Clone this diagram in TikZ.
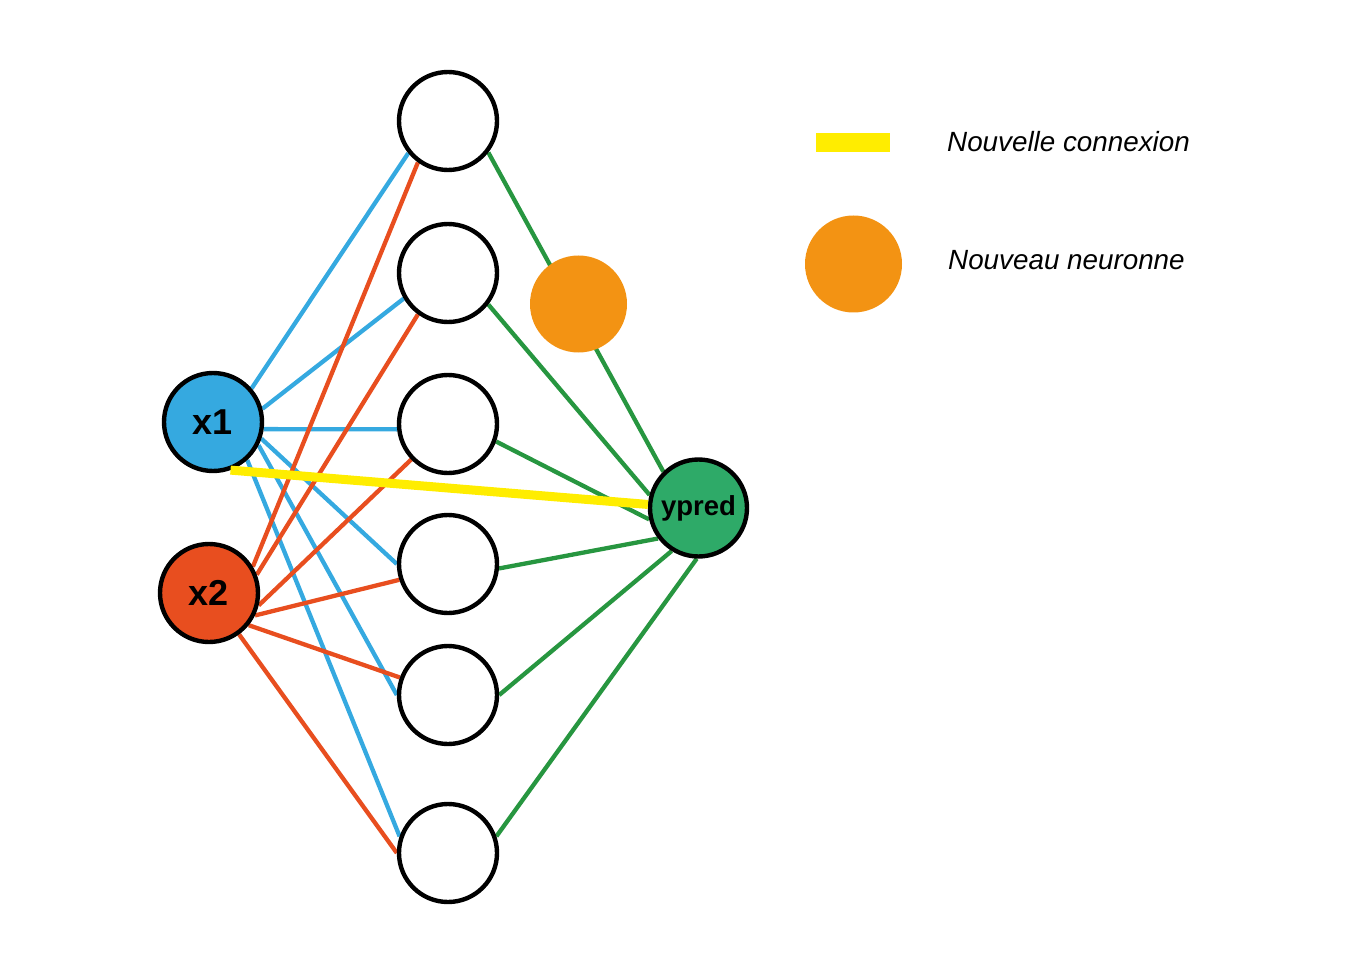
\documentclass[tikz,border=0pt]{standalone}
\usepackage{fontspec}
\setmainfont{Liberation Sans}
\usetikzlibrary{backgrounds}
\definecolor{inblue}{HTML}{35A9E0}
\definecolor{inred}{HTML}{E84E1F}
\definecolor{outgreen}{HTML}{2EAA68}
\definecolor{linkgreen}{HTML}{279640}
\definecolor{neworange}{HTML}{F39313}
\definecolor{newyellow}{HTML}{FFED00}
\begin{document}
\begin{tikzpicture}[x=1pt,y=-1pt,
  neuron/.style={circle, draw=black, line width=4.4pt, minimum size=98pt, inner sep=0pt, fill=white},
  inlabel/.style={font=\fontsize{36}{40}\selectfont\bfseries},
  addneuron/.style={circle, fill=neworange, minimum size=97pt, inner sep=0pt},
  bluelink/.style={draw=inblue, line width=4.3pt},
  redlink/.style={draw=inred, line width=4.3pt},
  greenlink/.style={draw=linkgreen, line width=4.3pt},
  newlink/.style={draw=newyellow, line width=9pt},
  keytext/.style={anchor=base west, inner sep=0pt, font=\fontsize{27.8}{32}\selectfont\itshape}]
\useasboundingbox (0,0) rectangle (1360,976);

% inputs
\node[neuron, fill=inblue, inlabel] (x1) at (213,422) {x1};
\node[neuron, fill=inred, inlabel] (x2) at (209,593) {x2};

% hidden layer
\node[neuron] (h1) at (448,121) {};
\node[neuron] (h2) at (448,273) {};
\node[neuron] (h3) at (448,424) {};
\node[neuron] (h4) at (448,564) {};
\node[neuron] (h5) at (448,695) {};
\node[neuron] (h6) at (448,853) {};

% output
\node[neuron, fill=outgreen, minimum size=97pt, font=\fontsize{27.5}{30}\selectfont\bfseries] (ypred) at (698.5,508) {ypred};

% added neuron
\node[addneuron] (newneuron) at (578.5,304) {};

% weights
\begin{pgfonlayer}{background}
  \draw[bluelink] (x1.41) -- (h1.219);
  \draw[bluelink] (x1.15) -- (h2.210);
  \draw[bluelink] (x1.-8) -- (h3.186);
  \draw[bluelink] (x1.-19) -- (h4.180);
  \draw[bluelink] (x1.-27) -- (h5.180);
  \draw[bluelink] (x1.-48) -- (h6.161);

  \draw[redlink] (x2.31) -- (h1.234);
  \draw[redlink] (x2.21) -- (h2.234);
  \draw[redlink] (x2.-14) -- (h3.224);
  \draw[redlink] (x2.-26) -- (h4.198);
  \draw[redlink] (x2.-39) -- (h5.160);
  \draw[redlink] (x2.-54) -- (h6.180);

  \draw[greenlink] (h1.-38) -- (ypred.134);
  \draw[greenlink] (h2.-38) -- (ypred.165);
  \draw[greenlink] (h3.-20) -- (ypred.193);
  \draw[greenlink] (h4.-5) -- (ypred.217);
  \draw[greenlink] (h5.0) -- (ypred.238);
  \draw[greenlink] (h6.19) -- (ypred.268);
\end{pgfonlayer}

% new connection
\draw[newlink] (x1.-70) -- (ypred.176);

% legend
\node[fill=newyellow, minimum width=74pt, minimum height=19pt, inner sep=0pt] (keylink) at (853,142.5) {};
\node[keytext] (keylinktext) at (947,152) {Nouvelle connexion};
\node[addneuron] (keyneuron) at (853.5,264) {};
\node[keytext] (keyneurontext) at (948,270) {Nouveau neuronne};
\end{tikzpicture}
\end{document}
